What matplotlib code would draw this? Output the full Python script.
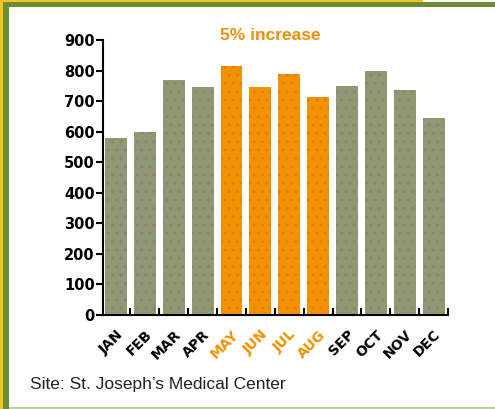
import numpy as np
import matplotlib
matplotlib.use("Agg")
import matplotlib.pyplot as plt
from matplotlib.patches import Rectangle

months = ["JAN", "FEB", "MAR", "APR", "MAY", "JUN", "JUL", "AUG", "SEP", "OCT", "NOV", "DEC"]
values = [580, 600, 770, 745, 815, 745, 790, 715, 750, 800, 735, 645]
highlight = ["MAY", "JUN", "JUL", "AUG"]
yticks = [0, 100, 200, 300, 400, 500, 600, 700, 800, 900]

grey = "#8e9872"
orange = "#f39200"

plt.rcParams['hatch.linewidth'] = 0.8

fig = plt.figure(figsize=(4.95, 4.09), dpi=100)
fig.patch.set_facecolor("white")

# frame strips
fig.add_artist(Rectangle((0, 1 - 2/409), 423/495, 2/409, transform=fig.transFigure, color="#f5c523", lw=0))
fig.add_artist(Rectangle((0, 1 - 7/409), 1, 5/409, transform=fig.transFigure, color="#6b8e34", lw=0))
fig.add_artist(Rectangle((0, 0), 3/495, 1, transform=fig.transFigure, color="#f5c523", lw=0))
fig.add_artist(Rectangle((3/495, 0), 6/495, 1 - 2/409, transform=fig.transFigure, color="#6b8e34", lw=0))
fig.add_artist(Rectangle((9/495, 0), 1, 2/409, transform=fig.transFigure, color="#b8d3a0", lw=0))

ax = fig.add_axes([103/495, 1 - 315/409, 345/495, 275/409])
x = np.arange(len(months))
cols = [orange if m in highlight else grey for m in months]
hcols = ["#e8761a" if m in highlight else "#a07a6a" for m in months]
bars = ax.bar(x, values, width=0.76, color=cols, linewidth=0)
for b, hc in zip(bars, hcols):
    b.set_hatch("..")
    b.set_edgecolor(hc)

ax.set_xlim(-0.45, 11.5)
ax.set_ylim(0, 900)
ax.set_yticks(yticks)
ax.set_yticklabels([str(v) for v in yticks], fontsize=10.5, fontweight="heavy", family="DejaVu Sans")
ax.tick_params(axis="y", direction="out", length=5, width=1.5, pad=1)

ax.set_xticks(x)
ax.set_xticklabels(months, rotation=45, ha="right", rotation_mode="anchor",
                   fontsize=10, fontweight="heavy")
for lbl, m in zip(ax.get_xticklabels(), months):
    if m in highlight:
        lbl.set_color(orange)
ax.tick_params(axis="x", length=0, pad=9)
ax.set_xticks(np.arange(0.5, 12, 1), minor=True)
ax.tick_params(axis="x", which="minor", direction="in", length=5, width=1.5)

for s in ["top", "right"]:
    ax.spines[s].set_visible(False)
ax.spines["left"].set_linewidth(1.5)
ax.spines["bottom"].set_linewidth(1.5)

fig.text(270/495, 1 - 35/409, "5% increase", color="#f0900a", fontsize=12.5, fontweight="bold",
         ha="center", va="center", family="Liberation Sans")
fig.text(30/495, 1 - 385/409, "Site: St. Joseph\u2019s Medical Center", color="#222222",
         fontsize=12.5, ha="left", va="center", family="Liberation Sans")

fig.savefig("out.png", dpi=100)
